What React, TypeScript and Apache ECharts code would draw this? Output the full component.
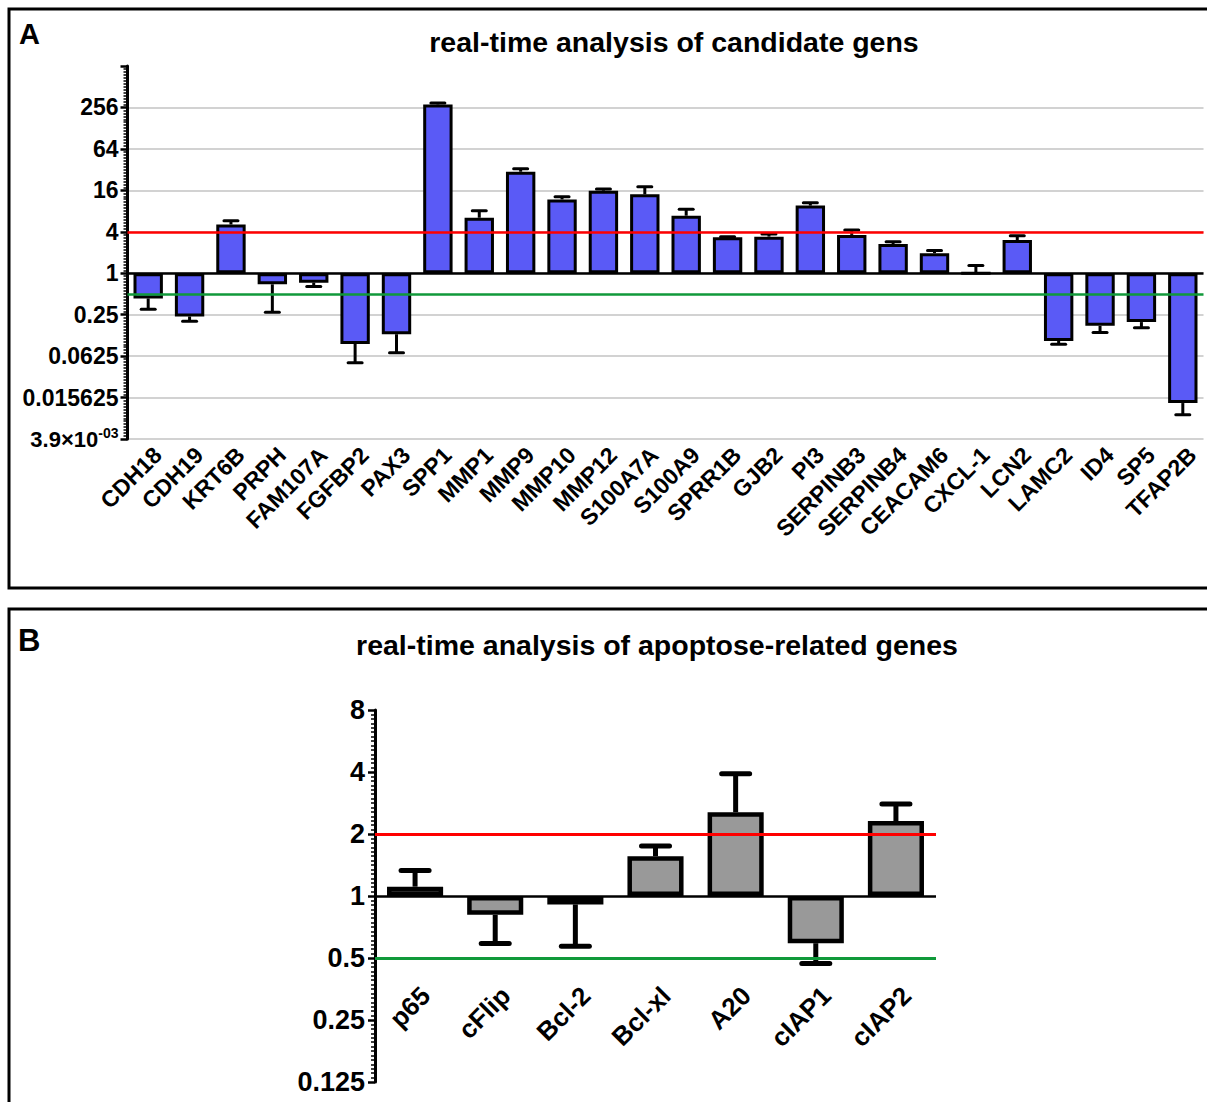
import React, { useEffect, useRef } from "react";
import * as echarts from "echarts";

// ---------- Panel A data ----------
const genesA = [
  "CDH18", "CDH19", "KRT6B", "PRPH", "FAM107A", "FGFBP2", "PAX3", "SPP1", "MMP1", "MMP9",
  "MMP10", "MMP12", "S100A7A", "S100A9", "SPRR1B", "GJB2", "PI3", "SERPINB3", "SERPINB4",
  "CEACAM6", "CXCL-1", "LCN2", "LAMC2", "ID4", "SP5", "TFAP2B",
];
const foldA = [
  0.43, 0.235, 5.1, 0.69, 0.73, 0.094, 0.13, 283, 6.4, 29.8,
  11.8, 15.8, 14.0, 6.85, 3.32, 3.4, 9.6, 3.6, 2.66,
  1.95, 1.0, 3.04, 0.104, 0.172, 0.195, 0.013,
];
const errEndA = [
  0.30, 0.20, 5.8, 0.27, 0.64, 0.05, 0.07, 298, 8.1, 33,
  12.9, 16.7, 18, 8.5, 3.4, 3.7, 10.6, 4.25, 2.87,
  2.13, 1.29, 3.5, 0.093, 0.138, 0.162, 0.0088,
];
const yTickLabelsA = ["3.9×10-03", "0.015625", "0.0625", "0.25", "1", "4", "16", "64", "256", ""];
const baselineA = 1;
const upThresholdA = 4;
const downThresholdA = 0.5;
const titleA = "real-time analysis of candidate gens";

// ---------- Panel B data ----------
const genesB = ["p65", "cFlip", "Bcl-2", "Bcl-xl", "A20", "cIAP1", "cIAP2"];
const foldB = [1.11, 0.81, 0.91, 1.56, 2.55, 0.59, 2.31];
const errEndB = [1.33, 0.588, 0.57, 1.75, 3.92, 0.47, 2.8];
const yTickLabelsB = ["0.125", "0.25", "0.5", "1", "2", "4", "8"];
const baselineB = 1;
const upThresholdB = 2;
const downThresholdB = 0.5;
const titleB = "real-time analysis of apoptose-related genes";

const FONT = '"Liberation Sans", Arial, Helvetica, sans-serif';
const log2 = (v: number) => Math.log2(v);

function errorRenderer(capWidth: number, lw: number) {
  return (params: any, api: any) => {
    const x = api.value(0);
    const p0 = api.coord([x, api.value(1)]);
    const p1 = api.coord([x, api.value(2)]);
    const h = capWidth / 2;
    return {
      type: "group",
      children: [
        {
          type: "line",
          shape: { x1: p0[0], y1: p0[1], x2: p1[0], y2: p1[1] },
          style: { stroke: "#000", lineWidth: lw },
        },
        {
          type: "line",
          shape: { x1: p1[0] - h, y1: p1[1], x2: p1[0] + h, y2: p1[1] },
          style: { stroke: "#000", lineWidth: lw, lineCap: "round" },
        },
      ],
    };
  };
}

export default function App() {
  const ref = useRef<HTMLDivElement>(null);
  useEffect(() => {
    if (!ref.current) return;
    const chart = echarts.init(ref.current, undefined, { renderer: "svg" });
    const option: any = {
      animation: false,
      backgroundColor: "#fff",
      graphic: [
        { type: "rect", shape: { x: 9, y: 9, width: 1215, height: 579 }, style: { fill: "none", stroke: "#000", lineWidth: 3 } },
        { type: "rect", shape: { x: 9, y: 609, width: 1215, height: 520 }, style: { fill: "none", stroke: "#000", lineWidth: 3 } },
        { type: "text", x: 19, y: 34, style: { text: "A", fontSize: 29, fontWeight: "bold", fontFamily: FONT, fill: "#000", verticalAlign: "middle" } },
        { type: "text", x: 674, y: 42, style: { text: titleA, fontSize: 28.5, fontWeight: "bold", fontFamily: FONT, fill: "#000", align: "center", verticalAlign: "middle" } },
        { type: "text", x: 18, y: 640, style: { text: "B", fontSize: 31, fontWeight: "bold", fontFamily: FONT, fill: "#000", verticalAlign: "middle" } },
        { type: "text", x: 657, y: 645, style: { text: titleB, fontSize: 28.5, fontWeight: "bold", fontFamily: FONT, fill: "#000", align: "center", verticalAlign: "middle" } },
      ],
      grid: [
        { left: 127.5, top: 66, width: 1076, height: 373, outerBoundsMode: "none", containLabel: false },
        { left: 375, top: 710, width: 561, height: 372, outerBoundsMode: "none", containLabel: false },
      ],
      xAxis: [
        {
          gridIndex: 0,
          type: "category",
          data: genesA,
          axisLine: { show: false, onZero: false },
          axisTick: { show: false },
          axisLabel: {
            interval: 0, rotate: 45, margin: 4, fontSize: 23, fontWeight: "bold",
            fontFamily: FONT, color: "#000", verticalAlign: "top", padding: [1, -1, 0, 0],
          },
        },
        {
          gridIndex: 1,
          type: "category",
          data: genesB,
          axisLine: { show: false, onZero: false },
          axisTick: { show: false },
          axisLabel: {
            interval: 0, rotate: 45, margin: -100, fontSize: 26, fontWeight: "bold",
            fontFamily: FONT, color: "#000", verticalAlign: "top", padding: [1, -1, 0, 0],
          },
        },
      ],
      yAxis: [
        {
          gridIndex: 0,
          type: "value",
          min: -8,
          max: 10,
          interval: 2,
          axisLine: { show: true, onZero: false, lineStyle: { color: "#000", width: 3 } },
          axisTick: { show: true, length: 7, lineStyle: { color: "#000", width: 2.5 } },
          minorTick: { show: true, splitNumber: 14, length: 4, lineStyle: { color: "#000", width: 1.5 } },
          splitLine: { show: true, showMaxLine: false, lineStyle: { color: "#d2d2d2", width: 2 } },
          axisLabel: {
            margin: 9, fontSize: 23, fontWeight: "bold", fontFamily: FONT, color: "#000",
            formatter: (v: number) => {
              const i = Math.round((v + 8) / 2);
              if (i === 0) return "{m|3.9×10}{s|-03}";
              return yTickLabelsA[i] ?? "";
            },
            rich: {
              m: { fontSize: 22, fontWeight: "bold", fontFamily: FONT, color: "#000", lineHeight: 26 },
              s: { fontSize: 14, fontWeight: "bold", fontFamily: FONT, color: "#000", verticalAlign: "top", lineHeight: 14 },
            },
          },
        },
        {
          gridIndex: 1,
          type: "value",
          min: -3,
          max: 3,
          interval: 1,
          axisLine: { show: true, onZero: false, lineStyle: { color: "#000", width: 3 } },
          axisTick: { show: true, length: 7, lineStyle: { color: "#000", width: 2.5 } },
          minorTick: { show: true, splitNumber: 14, length: 4, lineStyle: { color: "#000", width: 1.5 } },
          splitLine: { show: false },
          axisLabel: {
            margin: 10, fontSize: 27, fontWeight: "bold", fontFamily: FONT, color: "#000",
            formatter: (v: number) => yTickLabelsB[Math.round(v + 3)] ?? "",
          },
        },
      ],
      series: [
        {
          type: "bar",
          xAxisIndex: 0,
          yAxisIndex: 0,
          data: foldA.map(log2),
          barWidth: "71%",
          itemStyle: { color: "#5a5af6", borderColor: "#000", borderWidth: 3 },
          markLine: {
            silent: true,
            symbol: "none",
            label: { show: false },
            data: [
              { yAxis: log2(baselineA), lineStyle: { color: "#000", width: 2.5, type: "solid" } },
              { yAxis: log2(upThresholdA), lineStyle: { color: "#ff0000", width: 2.5, type: "solid" } },
              { yAxis: log2(downThresholdA), lineStyle: { color: "#10993a", width: 2.5, type: "solid" } },
            ],
          },
        },
        {
          type: "custom",
          xAxisIndex: 0,
          yAxisIndex: 0,
          z: 3,
          renderItem: errorRenderer(14, 3),
          data: foldA.map((v, i) => [i, log2(v), log2(errEndA[i])]),
        },
        {
          type: "bar",
          xAxisIndex: 1,
          yAxisIndex: 1,
          data: foldB.map(log2),
          barWidth: "70%",
          itemStyle: { color: "#999999", borderColor: "#000", borderWidth: 4.5 },
          markLine: {
            silent: true,
            symbol: "none",
            label: { show: false },
            data: [
              { yAxis: log2(baselineB), lineStyle: { color: "#000", width: 2.5, type: "solid" } },
              { yAxis: log2(upThresholdB), lineStyle: { color: "#ff0000", width: 3, type: "solid" } },
              { yAxis: log2(downThresholdB), lineStyle: { color: "#10993a", width: 3, type: "solid" } },
            ],
          },
        },
        {
          type: "custom",
          xAxisIndex: 1,
          yAxisIndex: 1,
          z: 3,
          renderItem: errorRenderer(28, 5),
          data: foldB.map((v, i) => [i, log2(v), log2(errEndB[i])]),
        },
      ],
    };
    chart.setOption(option);
    return () => chart.dispose();
  }, []);
  return (
    <div
      ref={ref}
      style={{ position: "absolute", left: 0, top: 0, width: 1207, height: 1102 }}
    />
  );
}
